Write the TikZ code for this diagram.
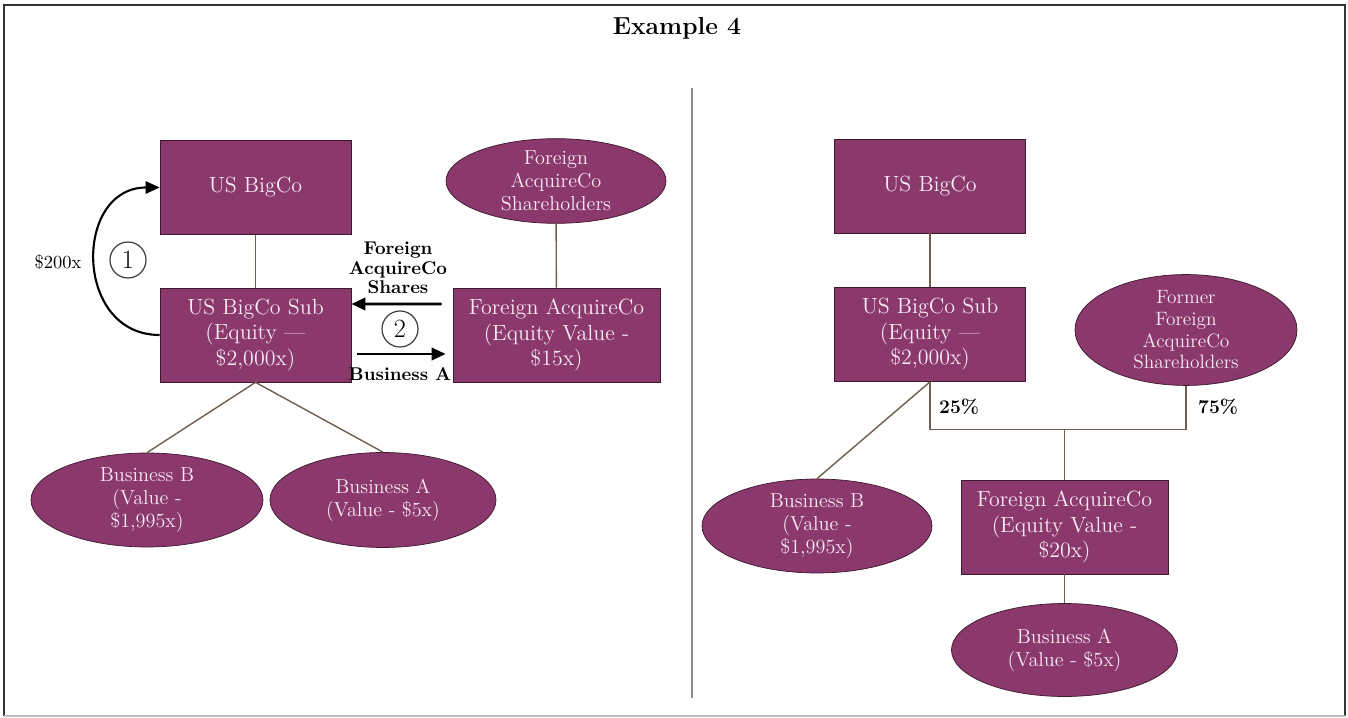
\documentclass[tikz,border=0pt]{standalone}
\usetikzlibrary{shapes.geometric,arrows.meta}
\definecolor{plum}{RGB}{139,56,109}
\definecolor{boxline}{RGB}{60,25,45}
\definecolor{linkcol}{RGB}{110,95,80}
\definecolor{paletext}{RGB}{248,236,244}
\tikzset{
  entity/.style={draw=boxline,fill=plum,text=paletext,minimum width=3.82cm,minimum height=1.88cm,
    align=center,inner sep=2pt,font=\fontsize{12.5}{14.5}\selectfont},
  holder/.style={ellipse,draw=boxline,fill=plum,text=paletext,align=center,inner sep=0pt,
    font=\fontsize{11.5}{13}\selectfont},
  link/.style={draw=linkcol,line width=0.8pt},
  flow/.style={-{Triangle[length=8pt,width=7pt]},line width=1.6pt},
  tag/.style={align=center,font=\bfseries\fontsize{10.5}{11}\selectfont},
  stepno/.style={circle,draw=black!75,line width=0.7pt,minimum size=0.72cm,inner sep=0pt,
    font=\fontsize{15}{15}\selectfont}
}
\begin{document}
\begin{tikzpicture}
  \useasboundingbox (0,0) rectangle (26.96,-14.36);
  \draw[black!80,line width=1.6pt] (0.08,-14.32) |- (26.9,-0.1) -- (26.9,-14.32);
  \draw[black!25,line width=0.8pt] (0.08,-14.32) -- (26.9,-14.32);
  \node[font=\bfseries\fontsize{14}{16}\selectfont] (title) at (13.54,-0.56) {Example 4};
  \draw[black!45,line width=0.7pt] (13.84,-1.76) -- (13.84,-13.96);

  \node[entity] (bigcoL) at (5.11,-3.75) {US BigCo};
  \node[entity] (subL) at (5.11,-6.7) {US BigCo Sub\\(Equity ---\\\$2,000x)};
  \node[holder,minimum width=4.4cm,minimum height=1.68cm] (shL) at (11.12,-3.62) {Foreign\\AcquireCo\\Shareholders};
  \node[entity,minimum width=4.14cm] (facL) at (11.13,-6.7) {Foreign AcquireCo\\(Equity Value -\\\$15x)};
  \node[holder,minimum width=4.64cm,minimum height=1.88cm] (busBL) at (2.94,-10.0) {Business B\\(Value -\\\$1,995x)};
  \node[holder,minimum width=4.52cm,minimum height=1.9cm] (busAL) at (7.66,-10.0) {Business A\\(Value - \$5x)};
  \draw[link] (bigcoL) -- (subL);
  \draw[link] (shL) -- (facL);
  \draw[link] (subL.south) -- (busBL.north);
  \draw[link] (subL.south) -- (busAL.north);

  \draw[flow,line width=1.2pt] (subL.west) to[out=180,in=180,looseness=1.5] (bigcoL.west);
  \node[stepno] (one) at (2.56,-5.2) {1};
  \node[font=\fontsize{10.5}{12}\selectfont] (cash) at (1.16,-5.24) {\$200x};
  \draw[flow] ([shift={(-0.22,0.62)}]facL.west) -- ([yshift=0.62cm]subL.east);
  \draw[flow] ([shift={(0.12,-0.38)}]subL.east) -- ([shift={(-0.14,-0.38)}]facL.west);
  \node[tag] (shares) at (7.96,-5.36) {Foreign\\AcquireCo\\Shares};
  \node[stepno] (two) at (8.0,-6.58) {2};
  \node[tag] (busmove) at (8.0,-7.48) {Business A};

  \node[entity] (bigcoR) at (18.6,-3.72) {US BigCo};
  \node[entity] (subR) at (18.6,-6.69) {US BigCo Sub\\(Equity ---\\\$2,000x)};
  \node[holder,minimum width=4.44cm,minimum height=2.0cm,font=\fontsize{11}{12.3}\selectfont] (shR) at (23.72,-6.6) {Former\\Foreign\\AcquireCo\\Shareholders};
  \node[holder,minimum width=4.6cm,minimum height=1.88cm] (busBR) at (16.34,-10.52) {Business B\\(Value -\\\$1,995x)};
  \node[entity,minimum width=4.14cm] (facR) at (21.29,-10.54) {Foreign AcquireCo\\(Equity Value -\\\$20x)};
  \node[holder,minimum width=4.52cm,minimum height=1.86cm] (busAR) at (21.29,-13.0) {Business A\\(Value - \$5x)};
  \coordinate (joint) at ([yshift=1cm]facR.north);
  \draw[link] (bigcoR) -- (subR);
  \draw[link] (subR.south) |- (joint) -| (shR.south);
  \draw[link] (joint) -- (facR.north);
  \draw[link] (subR.south) -- (busBR.north);
  \draw[link] (facR) -- (busAR);
  \node[tag,anchor=west,font=\bfseries\fontsize{11}{12}\selectfont] (pctA) at (18.66,-8.14) {25\%};
  \node[tag,anchor=west,font=\bfseries\fontsize{11}{12}\selectfont] (pctB) at (23.84,-8.14) {75\%};
\end{tikzpicture}
\end{document}
